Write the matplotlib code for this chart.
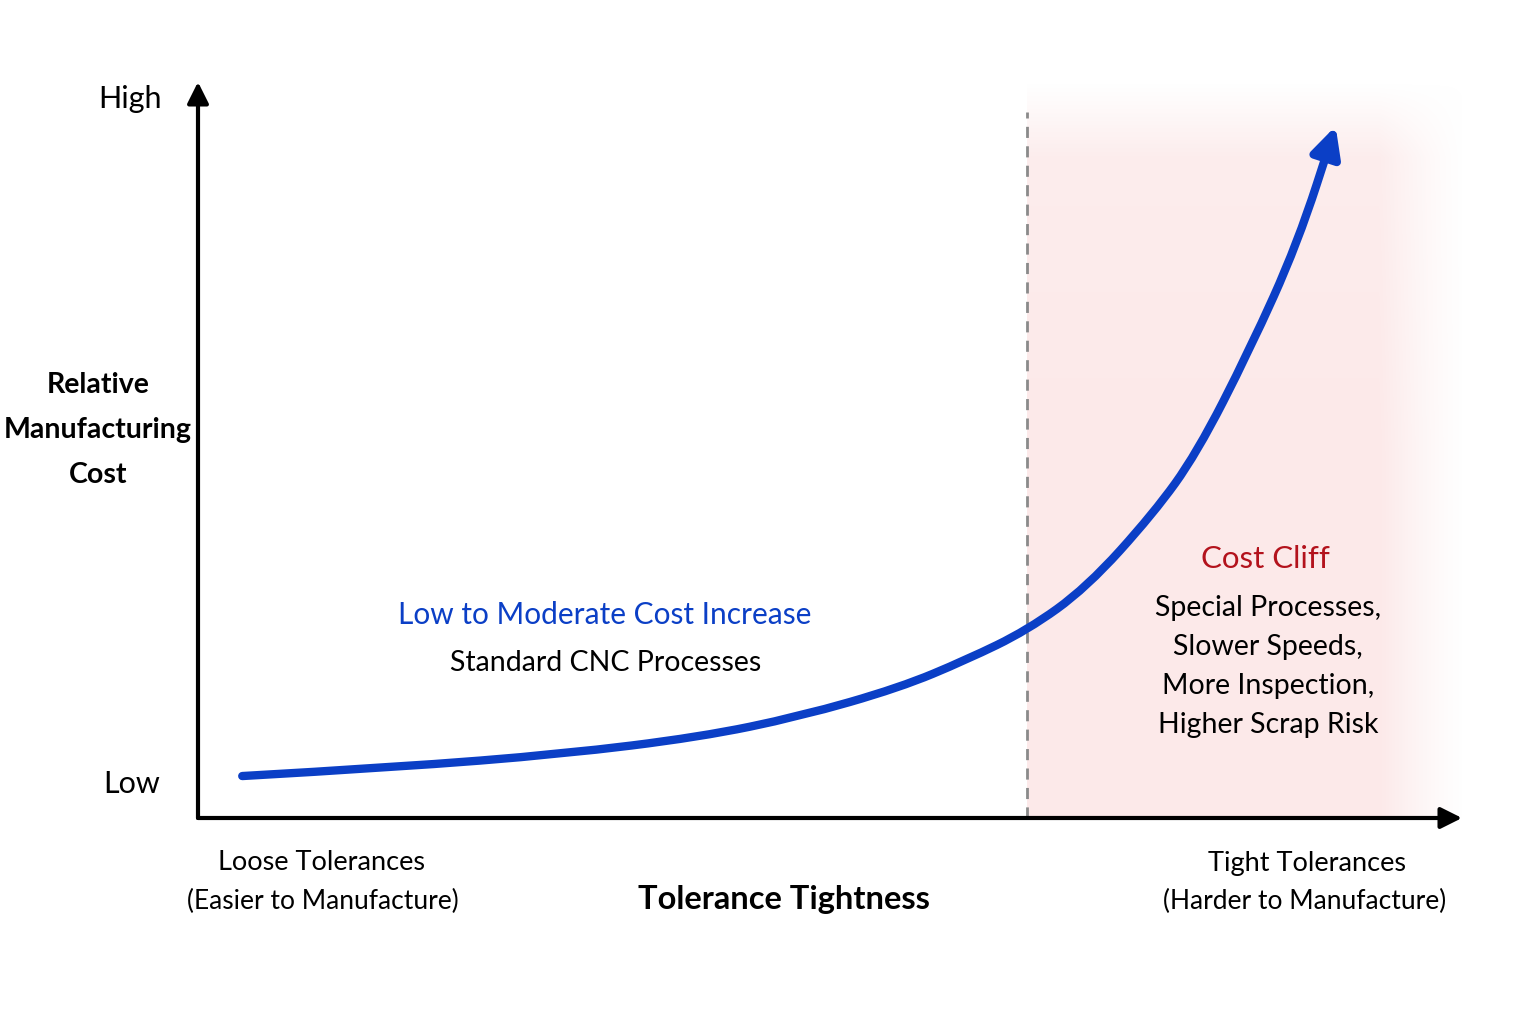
"""
Tolerance tightness vs. relative manufacturing cost -- conceptual curve
with the "cost cliff" zone shaded on the right.
"""

import matplotlib
matplotlib.use("Agg")
import matplotlib.pyplot as plt
import numpy as np
from matplotlib.patches import FancyArrowPatch
from matplotlib.path import Path

plt.rcParams["font.family"] = ["Lato", "DejaVu Sans"]

# curve (x: tolerance tightness 0-10, y: cost 0-10)
tightness = [0.35, 1.57, 2.89, 3.97, 4.76, 5.55, 6.08, 6.56, 7.03, 7.56,
             7.90, 8.32, 8.70, 9.00]
cost = [0.57, 0.69, 0.87, 1.10, 1.38, 1.77, 2.15, 2.55, 3.13, 4.14,
        4.95, 6.36, 7.81, 9.40]
cliff_start = 6.56

cliff_lines = ["Special Processes,", "Slower Speeds,", "More Inspection,", "Higher Scrap Risk"]

BLUE = "#0b3fc6"
RED = "#b3121c"
W, H = 1536, 1024


def px(x, y):
    # pixel position (top-left origin) -> figure fraction
    return x / W, 1 - y / H


def smooth_path(xs, ys):
    # quadratic bezier through midpoints, read points act as control points
    pts = list(zip(xs, ys))
    verts = [pts[0]]
    codes = [Path.MOVETO]
    for i in range(1, len(pts) - 1):
        mid = ((pts[i][0] + pts[i + 1][0]) / 2, (pts[i][1] + pts[i + 1][1]) / 2)
        verts += [pts[i], mid]
        codes += [Path.CURVE3, Path.CURVE3]
    verts.append(pts[-1])
    codes.append(Path.LINETO)
    return Path(verts, codes)


fig = plt.figure(figsize=(15.36, 10.24), dpi=100)
fig.patch.set_facecolor("white")

x0, y0 = px(198, 818)
x1, y1 = px(1462, 82)
ax = fig.add_axes([x0, y0, x1 - x0, y1 - y0])
ax.set_xlim(0, 10)
ax.set_ylim(0, 10)
ax.axis("off")

# shaded cliff zone, fading out to the right and at the top
nx, ny = 300, 200
fx = np.linspace(0, 1, nx)
fy = np.linspace(0, 1, ny)
alpha_x = np.clip((1 - fx) / 0.2, 0, 1) ** 1.3
alpha_y = np.clip((1 - fy) / 0.1, 0, 1) * (0.8 + 0.2 * np.clip((1 - fy) / 0.5, 0, 1))
alpha = np.outer(alpha_y, alpha_x)
rgba = np.zeros((ny, nx, 4))
rgba[..., 0] = 0.992
rgba[..., 1] = 0.915
rgba[..., 2] = 0.915
rgba[..., 3] = alpha
ax.imshow(rgba, extent=(cliff_start, 10.05, 0, 10.0), origin="lower",
          aspect="auto", zorder=0, interpolation="bilinear")

ax.axvline(cliff_start, ymin=0, ymax=0.959, color="#8a8a8a", lw=2,
           linestyle=(0, (4, 3)), zorder=1)

# axis arrows
ax.annotate("", xy=(1.0, 0), xytext=(0, 0), xycoords="axes fraction",
            arrowprops=dict(arrowstyle="-|>", lw=3, color="black",
                            mutation_scale=32, shrinkA=0, shrinkB=0))
ax.annotate("", xy=(0, 1.0), xytext=(0, 0), xycoords="axes fraction",
            arrowprops=dict(arrowstyle="-|>", lw=3, color="black",
                            mutation_scale=32, shrinkA=0, shrinkB=0))

# cost curve with arrow head
curve = FancyArrowPatch(path=smooth_path(tightness, cost), arrowstyle="-|>",
                        mutation_scale=44, lw=6, color=BLUE,
                        capstyle="round", joinstyle="round", zorder=3)
ax.add_patch(curve)


def label(x, y, s, size, color="black", weight="normal", ha="center"):
    fx_, fy_ = px(x, y)
    fig.text(fx_, fy_, s, fontsize=size, color=color, weight=weight,
             ha=ha, va="center")


label(162, 99, "High", 22, ha="right")
label(160, 784, "Low", 22, ha="right")
for i, s in enumerate(["Relative", "Manufacturing", "Cost"]):
    label(98, 385 + 45 * i, s, 20.5, weight="bold")

label(605, 615, "Low to Moderate Cost Increase", 21.5, color=BLUE)
label(606, 663, "Standard CNC Processes", 20.5)

label(1265, 559, "Cost Cliff", 22.5, color=RED)
for i, s in enumerate(cliff_lines):
    label(1268, 608 + 39 * i, s, 20.5)

label(322, 863, "Loose Tolerances", 19.5)
label(323, 901, "(Easier to Manufacture)", 19)
label(1307, 863, "Tight Tolerances", 19.5)
label(1305, 901, "(Harder to Manufacture)", 19)
label(784, 900, "Tolerance Tightness", 23.5, weight="bold")

fig.savefig("out.png", dpi=100, facecolor="white")
